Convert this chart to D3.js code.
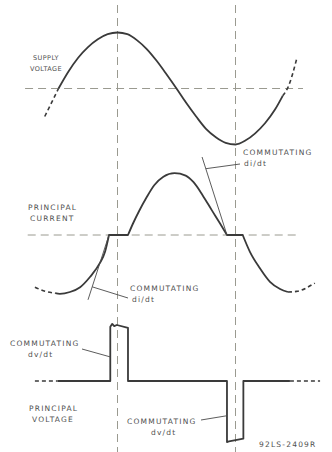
<!DOCTYPE html>
<meta charset="utf-8">
<style>
  body { margin: 0; background: #fff; }
  text {
    font-family: "DejaVu Sans", sans-serif;
    font-size: 7.5px;
    letter-spacing: 1.2px;
    fill: #505050;
  }
  .guide { stroke: #9a9a90; stroke-width: 1; stroke-dasharray: 8,5; fill: none; }
  .trace { stroke: #3a3a3a; stroke-width: 1.8; fill: none; stroke-linejoin: round; }
  .tail { stroke: #3a3a3a; stroke-width: 1.6; fill: none; stroke-dasharray: 4,3; }
  .thin { stroke: #4a4a4a; stroke-width: 0.9; fill: none; }
</style>
<body>
<svg id="fig" width="332" height="452"></svg>
<script src="https://cdnjs.cloudflare.com/ajax/libs/d3/7.8.5/d3.min.js"></script>
<script>
// angles in electrical degrees, values normalised to the peak
var guideAngles = [90, 270];

var supplyLead = [[-21, -0.5], [-10, -0.24], [0, 0]];
var supplyVoltage = [[0, 0], [15, 0.3], [30, 0.55], [45, 0.74], [60, 0.88], [75, 0.97], [90, 1],
  [105, 0.97], [120, 0.86], [135, 0.7], [150, 0.49], [165, 0.25], [180, 0], [195, -0.26],
  [210, -0.5], [225, -0.72], [240, -0.87], [255, -0.97], [270, -1], [285, -0.93], [300, -0.8],
  [315, -0.62], [330, -0.38], [342, -0.13]];
var supplyTail = [[342, -0.13], [350, 0.02], [364, 0.56]];

var currentLead = [[-36, -0.87], [-20, -0.94], [-5, -0.97]];
var currentLobeA = [[-5, -0.97], [2, -0.98], [17.5, -0.95], [33, -0.87], [48, -0.7], [63, -0.47],
  [71, -0.28], [77, 0]];
var currentHump = [[106, 0], [114, 0.2], [123, 0.4], [134, 0.62], [146, 0.83], [160, 0.97],
  [177, 1.03], [194, 0.99], [206, 0.88], [220, 0.66], [234, 0.41], [246, 0.2], [257, 0]];
var currentLobeB = [[281, 0], [292, -0.28], [307, -0.55], [322.6, -0.78], [338, -0.9], [350, -0.95]];
var currentTail = [[350, -0.95], [363, -0.94], [391, -0.8]];

// commutating di/dt tangents
var tangentFall = [[219, 1.3], [257, 0]];
var tangentRise = [[77, 0], [45, -1.08]];

var voltageLead = [[-36, 0], [-1, 0]];
var principalVoltage = [[-1, 0], [79, 0], [79, 0.97], [82, 1.02], [85, 0.98], [89, 1.0], [106, 0.95],
  [106, 0], [257, 0], [257, -1.09], [260, -1.08], [282, -1.03], [282, 0], [353, 0]];
var voltageTail = [[353, 0], [399, 0]];

var svg = d3.select("#fig");

var x = d3.scaleLinear().domain([0, 360]).range([58.5, 294.5]);
var yV = d3.scaleLinear().domain([-1, 1]).range([144.5, 32.5]);
var yI = d3.scaleLinear().domain([-1, 1]).range([295, 175]);
var yP = d3.scaleLinear().domain([-1, 1]).range([437, 325]);

function smooth(y) {
  return d3.line().x(function(d) { return x(d[0]); }).y(function(d) { return y(d[1]); }).curve(d3.curveMonotoneX);
}
function straight(y) {
  return d3.line().x(function(d) { return x(d[0]); }).y(function(d) { return y(d[1]); });
}
// pieces joined by straight runs (the flat commutation gaps)
function joined(pieces, y) {
  var ln = smooth(y);
  return pieces.map(function(p, i) { var s = ln(p); return i ? "L" + s.slice(1) : s; }).join("");
}

// guides
svg.selectAll(".vguide").data(guideAngles).enter().append("line")
  .attr("class", "guide")
  .attr("x1", function(d) { return x(d); }).attr("x2", function(d) { return x(d); })
  .attr("y1", 5).attr("y2", 452);

svg.append("line").attr("class", "guide")
  .attr("x1", x(-51)).attr("x2", x(373)).attr("y1", yV(0)).attr("y2", yV(0));
svg.append("line").attr("class", "guide")
  .attr("x1", x(-47)).attr("x2", x(362)).attr("y1", yI(0)).attr("y2", yI(0));

// supply voltage
svg.append("path").attr("class", "trace").attr("d", smooth(yV)(supplyVoltage));
svg.append("path").attr("class", "tail").attr("d", smooth(yV)(supplyLead));
svg.append("path").attr("class", "tail").attr("d", smooth(yV)(supplyTail));

// principal current
svg.append("path").attr("class", "trace").attr("d", joined([currentLobeA, currentHump, currentLobeB], yI));
svg.append("path").attr("class", "tail").attr("d", smooth(yI)(currentLead));
svg.append("path").attr("class", "tail").attr("d", smooth(yI)(currentTail));
svg.append("path").attr("class", "thin").attr("d", straight(yI)(tangentFall));
svg.append("path").attr("class", "thin").attr("d", straight(yI)(tangentRise));

// principal voltage
svg.append("path").attr("class", "trace").attr("d", straight(yP)(principalVoltage));
svg.append("path").attr("class", "tail").attr("d", straight(yP)(voltageLead));
svg.append("path").attr("class", "tail").attr("d", straight(yP)(voltageTail));

// leaders
function along(seg, t) {
  return [seg[0][0] + (seg[1][0] - seg[0][0]) * t, seg[0][1] + (seg[1][1] - seg[0][1]) * t];
}
var pf = along(tangentFall, 0.15), pr = along(tangentRise, 0.8);
var leaders = [
  [[x(pf[0]), yI(pf[1])], [240, 164]],
  [[x(pr[0]), yI(pr[1])], [128, 298]],
  [[82, 349], [x(79), yP(0.43)]],
  [[201, 420], [x(257), yP(-0.62)]]
];
svg.selectAll(".leader").data(leaders).enter().append("line")
  .attr("class", "thin").attr("stroke-width", 0.8)
  .attr("x1", function(d) { return d[0][0]; }).attr("y1", function(d) { return d[0][1]; })
  .attr("x2", function(d) { return d[1][0]; }).attr("y2", function(d) { return d[1][1]; });

// labels
var labels = [
  ["PRINCIPAL", 28, 210], ["CURRENT", 30, 221],
  ["COMMUTATING", 243, 155], ["di/dt", 244, 166],
  ["COMMUTATING", 130, 291], ["di/dt", 132, 302],
  ["COMMUTATING", 10, 346], ["dv/dt", 28, 357],
  ["PRINCIPAL", 29, 411], ["VOLTAGE", 32, 422],
  ["COMMUTATING", 127, 424], ["dv/dt", 151, 435],
  ["92LS-2409R", 259, 447]
];
svg.selectAll(".lbl").data(labels).enter().append("text")
  .attr("x", function(d) { return d[1]; }).attr("y", function(d) { return d[2]; })
  .text(function(d) { return d[0]; });

svg.append("text").attr("x", 46).attr("y", 60).attr("text-anchor", "middle")
  .style("font-size", "6.5px").style("letter-spacing", "0.4px").text("SUPPLY");
svg.append("text").attr("x", 46).attr("y", 71).attr("text-anchor", "middle")
  .style("font-size", "6.5px").style("letter-spacing", "0.4px").text("VOLTAGE");
</script>
</body>
